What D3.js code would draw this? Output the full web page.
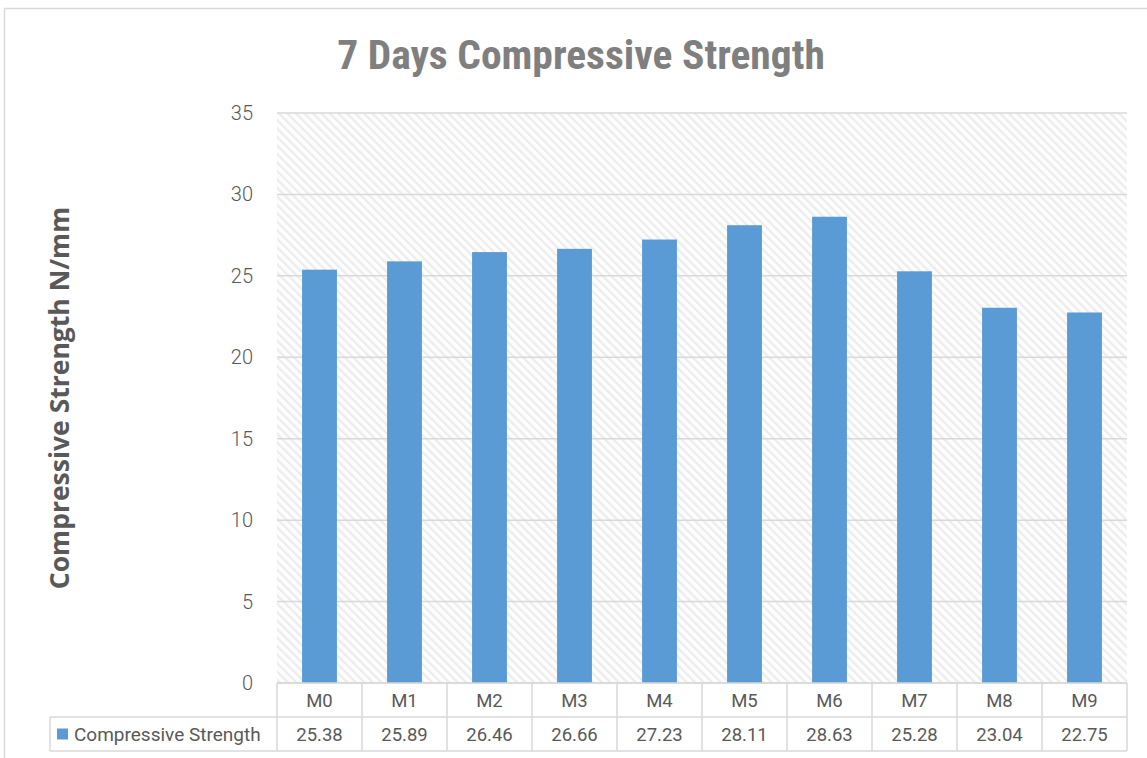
<!DOCTYPE html>
<meta charset="utf-8">
<style>
body { margin: 0; background: #fff; }
text { fill: #595959; font-family: Roboto, "Liberation Sans", sans-serif; font-weight: 400; }
.ytick { font-weight: 300; }
.title { font-family: "Liberation Sans Narrow", "Roboto Condensed", sans-serif; font-stretch: condensed; font-weight: bold; fill: #7f7f7f; }
.ylabel { font-family: "Open Sans", "DejaVu Sans", sans-serif; font-weight: bold; fill: #595959; }
</style>
<svg width="1147" height="758"></svg>
<script src="https://d3js.org/d3.v7.min.js"></script>
<script>

var categories = ["M0", "M1", "M2", "M3", "M4", "M5", "M6", "M7", "M8", "M9"];
var strength = [25.38, 25.89, 26.46, 26.66, 27.23, 28.11, 28.63, 25.28, 23.04, 22.75];
var yTicks = [0, 5, 10, 15, 20, 25, 30, 35];
var seriesName = "Compressive Strength";

var svg = d3.select("svg");

var margin = {left: 277, right: 20, top: 113, bottom: 75},
    plotW = 1147 - margin.left - margin.right,
    plotH = 758 - margin.top - margin.bottom;

// outer chart frame
svg.append("rect")
    .attr("x", 4.5).attr("y", 8.5)
    .attr("width", 1160).attr("height", 800)
    .attr("fill", "none").attr("stroke", "#d9d9d9").attr("stroke-width", 1.5);

var defs = svg.append("defs");
var pat = defs.append("pattern")
    .attr("id", "hatch")
    .attr("patternUnits", "userSpaceOnUse")
    .attr("width", 6).attr("height", 6)
    .attr("patternTransform", "rotate(-45)");
pat.append("rect").attr("width", 6).attr("height", 6).attr("fill", "#fdfdfd");
pat.append("rect").attr("width", 2.2).attr("height", 6).attr("fill", "#ececec");

var x = d3.scaleBand()
    .domain(categories)
    .range([0, plotW])
    .paddingInner(0.59)
    .paddingOuter(0.295);

var col = d3.scaleBand().domain(categories).range([0, plotW]);

var y = d3.scaleLinear().domain([0, 35]).range([plotH, 0]);

var g = svg.append("g").attr("transform", "translate(" + margin.left + "," + margin.top + ")");

g.append("rect")
    .attr("width", plotW).attr("height", plotH)
    .attr("fill", "url(#hatch)");

g.selectAll(".grid")
  .data(yTicks)
  .enter().append("line")
    .attr("class", "grid")
    .attr("x1", 0).attr("x2", plotW)
    .attr("y1", function(d) { return y(d); })
    .attr("y2", function(d) { return y(d); })
    .attr("stroke", "#d9d9d9").attr("stroke-width", 1.5);

g.selectAll(".ytick")
  .data(yTicks)
  .enter().append("text")
    .attr("class", "ytick")
    .attr("x", -24)
    .attr("y", function(d) { return y(d); })
    .attr("dy", "0.35em")
    .attr("text-anchor", "end")
    .style("font-size", "20px")
    .text(function(d) { return d; });

g.selectAll(".bar")
  .data(strength)
  .enter().append("rect")
    .attr("class", "bar")
    .attr("x", function(d, i) { return x(categories[i]); })
    .attr("width", x.bandwidth())
    .attr("y", function(d) { return y(d); })
    .attr("height", function(d) { return plotH - y(d); })
    .attr("fill", "#5b9bd5");

// data table
var rowH = 34;
var table = g.append("g").attr("transform", "translate(0," + plotH + ")");
var lineColor = "#d9d9d9";

table.selectAll(".vline")
  .data(categories.concat(["end"]))
  .enter().append("line")
    .attr("x1", function(d, i) { return i * col.bandwidth(); })
    .attr("x2", function(d, i) { return i * col.bandwidth(); })
    .attr("y1", 0).attr("y2", rowH * 2)
    .attr("stroke", lineColor).attr("stroke-width", 1.5);

[0, rowH, rowH * 2].forEach(function(yy, i) {
  table.append("line")
      .attr("x1", i === 0 ? 0 : 50 - margin.left).attr("x2", plotW)
      .attr("y1", yy).attr("y2", yy)
      .attr("stroke", lineColor).attr("stroke-width", 1.5);
});
table.append("line")
    .attr("x1", 50 - margin.left).attr("x2", 50 - margin.left)
    .attr("y1", rowH).attr("y2", rowH * 2)
    .attr("stroke", lineColor).attr("stroke-width", 1.5);

table.selectAll(".cat")
  .data(categories)
  .enter().append("text")
    .attr("x", function(d) { return col(d) + col.bandwidth() / 2; })
    .attr("y", rowH / 2).attr("dy", "0.36em")
    .attr("text-anchor", "middle")
    .style("font-size", "18.5px")
    .text(function(d) { return d; });

table.selectAll(".val")
  .data(strength)
  .enter().append("text")
    .attr("x", function(d, i) { return col(categories[i]) + col.bandwidth() / 2; })
    .attr("y", rowH * 1.5).attr("dy", "0.36em")
    .attr("text-anchor", "middle")
    .style("font-size", "18.5px")
    .text(function(d) { return d.toFixed(2); });

table.append("rect")
    .attr("x", 57 - margin.left).attr("y", rowH * 1.5 - 5.5)
    .attr("width", 11).attr("height", 11)
    .attr("fill", "#5b9bd5");
table.append("text")
    .attr("x", 74 - margin.left).attr("y", rowH * 1.5).attr("dy", "0.36em")
    .style("font-size", "19px")
    .text(seriesName);

svg.append("text")
    .attr("class", "title")
    .attr("x", 581).attr("y", 69)
    .attr("text-anchor", "middle")
    .style("font-size", "41.5px")
    .text("7 Days Compressive Strength");

svg.append("text")
    .attr("class", "ylabel")
    .attr("transform", "translate(69," + 398 + ") rotate(-90)")
    .attr("text-anchor", "middle")
    .style("font-size", "26.5px")
    .text("Compressive Strength N/mm");

</script>
